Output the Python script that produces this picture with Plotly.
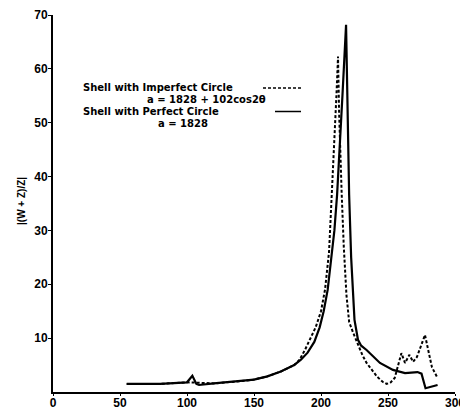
import plotly.graph_objects as go

# Shell with Perfect Circle (solid)
perfect_x = [55, 80, 100, 104, 107, 109, 120, 140, 150, 160, 170, 180, 185, 190, 195, 199,
             202, 205, 208, 210, 212, 214, 216, 218.7, 219.5, 220, 221, 222.5, 224, 225,
             227.6, 230, 234, 244, 253.7, 262.7, 272, 275, 278, 282, 287]
perfect_y = [1.5, 1.5, 1.8, 3.0, 1.5, 1.3, 1.6, 2.0, 2.3, 2.9, 3.8, 5.0, 6.0, 7.3, 9.3, 12,
             15, 19, 25, 30, 36.6, 45, 55, 68.2, 58, 48, 36.6, 25, 17, 13.4,
             9.7, 8.6, 7.8, 5.4, 4.1, 3.5, 3.7, 3.4, 0.7, 1.0, 1.3]

# Shell with Imperfect Circle (dashed)
imperfect_x = [55, 80, 100, 120, 140, 150, 160, 170, 180, 184, 188, 192, 196, 200, 203, 206,
               208, 210, 211.5, 212.7, 213.5, 215.4, 217, 219, 221, 224, 227, 231, 234, 238,
               242, 246, 249, 252, 255, 260, 262.7, 266, 268.7, 271.6, 277.6, 280, 282.8, 286.6]
imperfect_y = [1.5, 1.5, 1.8, 1.6, 2.0, 2.3, 2.9, 3.8, 5.0, 6.0, 7.8, 10, 12, 15, 19, 26,
               36, 45, 55, 62.3, 52, 37, 27, 18, 13, 11, 9.2, 6.8, 5.4, 4.0,
               2.8, 1.9, 1.5, 1.8, 2.6, 7.2, 5.4, 6.9, 5.6, 6.5, 10.6, 7.8, 4.6, 2.8]

x_ticks = [0, 50, 100, 150, 200, 250, 300]
y_ticks = [10, 20, 30, 40, 50, 60, 70]

legend_lines = ["Shell with Imperfect Circle", "a = 1828 + 102cos2θ",
                "Shell with Perfect Circle", "a = 1828"]

FONT = "Liberation Sans, Arial, sans-serif"
LFONT = "DejaVu Sans, sans-serif"
OFF = 8  # page body margin offset
W, H = 468 - OFF, 410 - OFF
L, R, T, B = 53, 455, 15, 392  # target pixel positions in the page
PW, PH = R - L, B - T


def px(x):
    return (x - L) / PW


def py(y):
    return (B - y) / PH


fig = go.Figure()
fig.add_trace(go.Scatter(x=imperfect_x, y=imperfect_y, mode="lines",
                         line=dict(color="black", width=2, dash="3px,2px"),
                         name=legend_lines[0]))
fig.add_trace(go.Scatter(x=perfect_x, y=perfect_y, mode="lines",
                         line=dict(color="black", width=2.2),
                         name=legend_lines[2]))

lf = dict(family=LFONT, size=10, color="black", weight="bold")
legend_pos = [(82, 88), (146, 99.7), (82, 111.4), (157, 123.1)]
for (lx, ly), txt in zip(legend_pos, legend_lines):
    fig.add_annotation(xref="paper", yref="paper", x=px(lx), y=py(ly), xanchor="left", yanchor="middle",
                       text=txt, showarrow=False, font=lf, borderpad=0)
fig.add_shape(type="line", xref="paper", yref="paper", x0=px(263), x1=px(302),
              y0=py(88), y1=py(88), line=dict(color="black", width=1.5, dash="3px,2px"))
fig.add_shape(type="line", xref="paper", yref="paper", x0=px(275), x1=px(301),
              y0=py(111.5), y1=py(111.5), line=dict(color="black", width=1.5))

fig.add_annotation(xref="paper", yref="paper", x=px(21), y=py(201), xanchor="center", yanchor="middle",
                   text="|(W + Z)/Z|", textangle=-90, showarrow=False,
                   font=dict(family=FONT, size=10, color="black", weight="bold"))

fig.update_layout(
    width=W, height=H,
    margin=dict(l=L - OFF, r=468 - R, t=T - OFF, b=410 - B, autoexpand=False),
    paper_bgcolor="white", plot_bgcolor="white",
    showlegend=False,
    font=dict(family=FONT, color="black"),
)
fig.update_xaxes(range=[0, 300], tickvals=x_ticks, ticktext=[str(v) for v in x_ticks],
                 showgrid=False, zeroline=False, showline=True, linecolor="black", linewidth=2,
                 ticks="outside", ticklen=2, tickcolor="black", automargin=False,
                 ticklabelstandoff=-3,
                 tickfont=dict(family=FONT, size=12, color="black", weight="bold"))
fig.update_yaxes(range=[0, 70], tickvals=y_ticks, ticktext=[str(v) for v in y_ticks],
                 showgrid=False, zeroline=False, showline=True, linecolor="black", linewidth=2,
                 ticks="outside", ticklen=3, tickcolor="black", ticklabelstandoff=-2, automargin=False,
                 tickfont=dict(family=FONT, size=12, color="black", weight="bold"))

fig.write_html("out.html")
